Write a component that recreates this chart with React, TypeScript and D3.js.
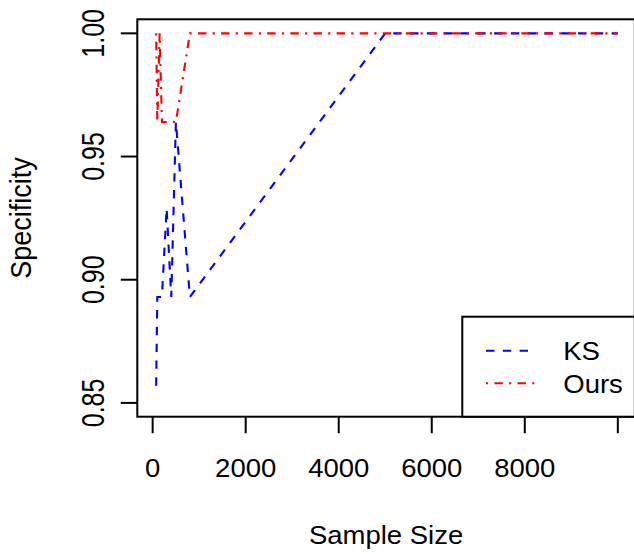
import React from "react";
import * as d3 from "d3";

// sample sizes and specificity (out of 28 negatives)
const sampleSizes = [75, 100, 150, 200, 300, 400, 500, 800, 5000, 10000];
const ksSpec = [0.857, 0.893, 0.893, 0.893, 0.929, 0.893, 0.964, 0.893, 1.0, 1.0];
const oursSpec = [1.0, 0.964, 1.0, 0.964, 0.964, 0.964, 0.964, 1.0, 1.0, 1.0];

const xTicks = [0, 2000, 4000, 6000, 8000, 10000];
const xTickLabels = ["0", "2000", "4000", "6000", "8000", ""];
const yTicks = [0.85, 0.9, 0.95, 1.0];

const seriesNames = ["KS", "Ours"];
const seriesColors = ["#0000ff", "#ff0000"];
const seriesDash = ["8.4,8.4", "2.1,6.3,8.4,6.3"];

const W = 634;
const H = 554;
const FONT = "'Liberation Sans', Arial, Helvetica, sans-serif";
const FS = 25;
const SX = 1.1; // the original png is a bit wider than tall

// horizontal text, stretched around its anchor
const hStretch = (cx: number) => `translate(${cx},0) scale(${SX},1) translate(${-cx},0)`;

export default function App() {
  // plot region (R style, 4% padding already in the domains)
  const left = 137.3, right = 634.8, top = 19.3, bottom = 416.7;

  const x = d3.scaleLinear().domain([-330, 10365]).range([left, right]);
  const y = d3.scaleLinear().domain([0.8444, 1.0057]).range([bottom, top]);

  const line = d3
    .line<[number, number]>()
    .x((d) => x(d[0]))
    .y((d) => y(d[1]));

  const series = [ksSpec, oursSpec].map((vals) =>
    sampleSizes.map((s, i) => [s, vals[i]] as [number, number])
  );

  const fmt = d3.format(".2f");
  const tickLen = 16.5;

  // legend (bottom right)
  const legLeft = 462.3, legTop = 316.7;
  const legRows = [350.7, 383.3];

  return (
    <svg
      width={W}
      height={H}
      style={{ position: "absolute", left: 0, top: 0, background: "#fff" }}
      fontFamily={FONT}
      fontSize={FS}
    >
      <rect x={0} y={0} width={W} height={H} fill="#fff" />

      {/* data */}
      {series.map((pts, i) => (
        <path
          key={seriesNames[i]}
          d={line(pts) || ""}
          fill="none"
          stroke={seriesColors[i]}
          strokeWidth={2.1}
          strokeDasharray={seriesDash[i]}
        />
      ))}

      {/* box */}
      <rect
        x={left}
        y={top}
        width={right - left}
        height={bottom - top}
        fill="none"
        stroke="#000"
        strokeWidth={2}
      />

      {/* x axis */}
      {xTicks.map((t, i) => (
        <g key={"xt" + t}>
          <line x1={x(t)} x2={x(t)} y1={bottom} y2={bottom + tickLen} stroke="#000" strokeWidth={2} />
          <text x={x(t)} y={477.3} textAnchor="middle" transform={hStretch(x(t))}>
            {xTickLabels[i]}
          </text>
        </g>
      ))}
      <text x={(left + right) / 2} y={544} textAnchor="middle" transform={hStretch((left + right) / 2)}>
        Sample Size
      </text>

      {/* y axis */}
      {yTicks.map((t) => (
        <g key={"yt" + t}>
          <line x1={left - tickLen} x2={left} y1={y(t)} y2={y(t)} stroke="#000" strokeWidth={2} />
          <text transform={`translate(104,${y(t)}) scale(1.22,1) rotate(-90)`} textAnchor="middle">
            {fmt(t)}
          </text>
        </g>
      ))}
      <text
        transform={`translate(31,${(top + bottom) / 2}) scale(1.12,1) rotate(-90)`}
        textAnchor="middle"
        fontSize={27}
      >
        Specificity
      </text>

      {/* legend */}
      <rect
        x={legLeft}
        y={legTop}
        width={right - legLeft}
        height={bottom - legTop}
        fill="#fff"
        stroke="#000"
        strokeWidth={2}
      />
      {seriesNames.map((name, i) => (
        <g key={"leg" + name}>
          <line
            x1={486}
            x2={536}
            y1={legRows[i]}
            y2={legRows[i]}
            stroke={seriesColors[i]}
            strokeWidth={2.1}
            strokeDasharray={seriesDash[i]}
          />
          <text x={563.3} y={legRows[i] + 9.8} transform={hStretch(563.3)}>
            {name}
          </text>
        </g>
      ))}
    </svg>
  );
}
